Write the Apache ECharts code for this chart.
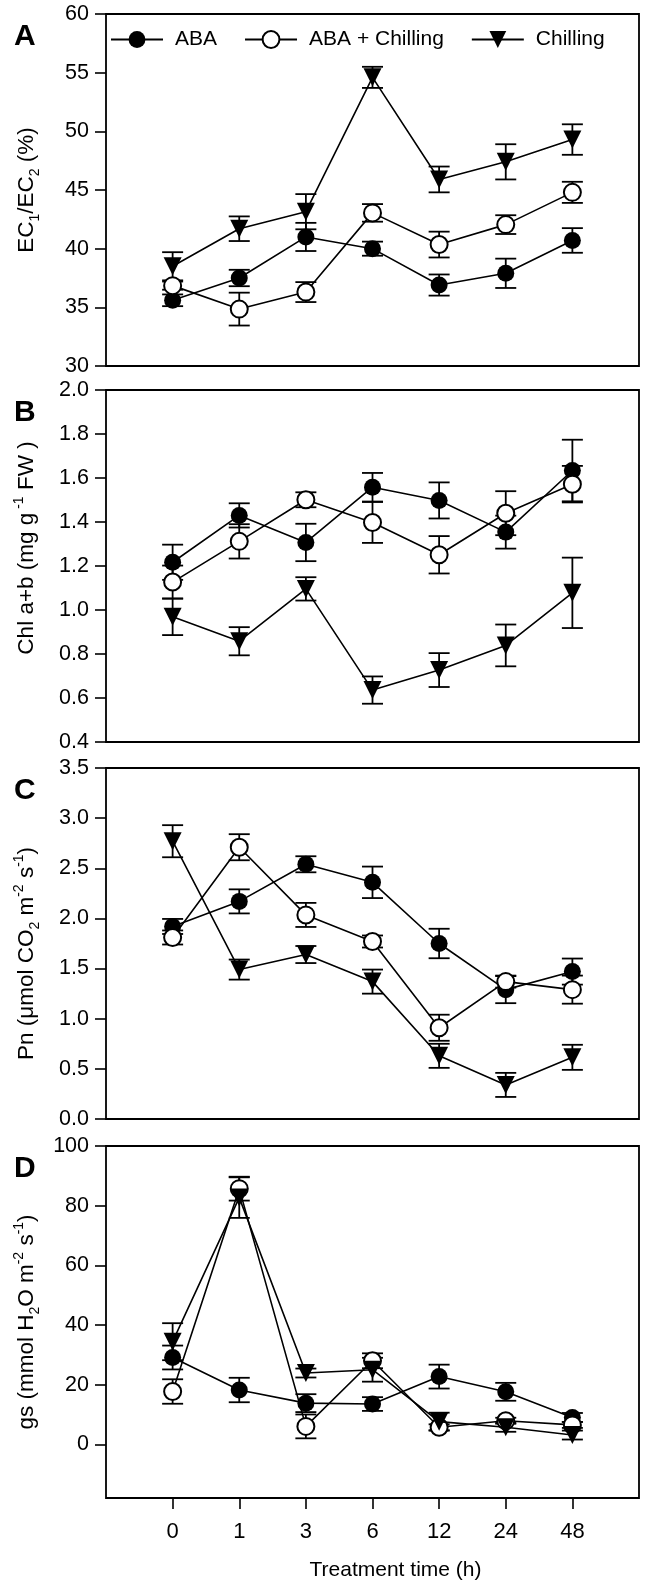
<!DOCTYPE html>
<html>
<head>
<meta charset="utf-8">
<script src="https://cdn.jsdelivr.net/npm/echarts@6/dist/echarts.min.js"></script>
<style>
  html, body { margin: 0; padding: 0; background: #fff; }
  #chart { width: 647px; height: 1589px; }
</style>
</head>
<body>
<div id="chart"></div>
<script>
// treatment times (x categories)
const times = ['0', '1', '3', '6', '12', '24', '48'];
const groups = ['ABA', 'ABA + Chilling', 'Chilling'];

// A: EC1/EC2 (%)
const ecAba = [35.6, 37.5, 41.0, 40.0, 36.9, 37.9, 40.7];
const ecAbaErr = [0.5, 0.7, 1.2, 0.6, 0.9, 1.25, 1.05];
const ecAbaChill = [36.85, 34.85, 36.3, 43.05, 40.35, 42.05, 44.8];
const ecAbaChillErr = [0.35, 1.4, 0.85, 0.75, 1.1, 0.8, 0.9];
const ecChill = [38.5, 41.7, 43.15, 54.6, 45.9, 47.4, 49.3];
const ecChillErr = [1.2, 1.05, 1.5, 0.9, 1.1, 1.5, 1.3];

// B: Chl a+b
const chlAba = [1.217, 1.43, 1.307, 1.558, 1.498, 1.354, 1.634];
const chlAbaErr = [0.08, 0.055, 0.085, 0.065, 0.082, 0.075, 0.14];
const chlAbaChill = [1.127, 1.312, 1.501, 1.398, 1.251, 1.44, 1.572];
const chlAbaChillErr = [0.075, 0.078, 0.034, 0.093, 0.085, 0.1, 0.083];
const chlChill = [0.969, 0.858, 1.096, 0.636, 0.727, 0.839, 1.078];
const chlChillErr = [0.083, 0.064, 0.053, 0.062, 0.077, 0.095, 0.16];

// C: Pn
const pnAba = [1.92, 2.17, 2.54, 2.36, 1.75, 1.29, 1.47];
const pnAbaErr = [0.075, 0.12, 0.08, 0.157, 0.147, 0.135, 0.13];
const pnAbaChill = [1.81, 2.71, 2.035, 1.77, 0.91, 1.37, 1.29];
const pnAbaChillErr = [0.07, 0.13, 0.12, 0.06, 0.13, 0.06, 0.14];
const pnChill = [2.77, 1.49, 1.64, 1.37, 0.63, 0.34, 0.615];
const pnChillErr = [0.16, 0.1, 0.085, 0.12, 0.12, 0.12, 0.125];

// D: gs
const gsAba = [29.1, 18.2, 13.8, 13.5, 22.7, 17.6, 9.0];
const gsAbaErr = [4, 4.1, 3, 2.3, 4, 3, 1.5];
const gsAbaChill = [17.7, 85.7, 6.0, 28.0, 5.7, 7.9, 6.5];
const gsAbaChillErr = [4.1, 4, 4, 2.5, 1, 1, 1];
const gsChill = [34.4, 82.7, 23.9, 25.0, 7.6, 5.7, 3.1];
const gsChillErr = [6.2, 6.8, 1.5, 4, 3, 1.5, 1.5];

const gsTicks = [0, 20, 40, 60, 80, 100];
const timeIdx = times.map((t, i) => i);

const FONT = "'Liberation Sans', Arial, sans-serif";
const panelTops = [14, 390, 768, 1146];
const panelH = [352, 352, 351, 352];
const letters = ['A', 'B', 'C', 'D'];

const chart = echarts.init(document.getElementById('chart'));

const rich = {
  n: { fontSize: 22.5, fontFamily: FONT, color: '#000', lineHeight: 30 },
  sub: { fontSize: 14, fontFamily: FONT, color: '#000', lineHeight: 30, verticalAlign: 'bottom' },
  sup: { fontSize: 14, fontFamily: FONT, color: '#000', lineHeight: 30, verticalAlign: 'top' }
};

const yNames = [
  '{n|EC}{sub|1}{n|/EC}{sub|2}{n| (%)}',
  '{n|Chl a+b (mg g}{sup| -1}{n| FW )}',
  '{n|Pn (μmol CO}{sub|2}{n| m}{sup|-2}{n| s}{sup|-1}{n|)}',
  '{n|gs (mmol H}{sub|2}{n|O m}{sup|-2}{n| s}{sup|-1}{n|)}'
];
const yPad = [0, [0, 0, 0, 36], [0, 20, 0, 0], 0];
const yRange = [[30, 60, 5], [0.4, 2.0, 0.2], [0, 3.5, 0.5], [-18, 100, 20]];
const yDigits = [0, 1, 1, 0];

const grid = panelTops.map((t, i) => ({
  left: 106, right: 8, top: t, height: panelH[i],
  show: true, borderColor: '#000', borderWidth: 1.8, backgroundColor: 'transparent'
}));

const xAxis = panelTops.map((t, i) => ({
  type: 'value', gridIndex: i, min: -1, max: 7,
  splitLine: { show: false },
  axisLine: { show: false, onZero: false },
  axisTick: i === 3 ? { show: true, length: 11, customValues: timeIdx, lineStyle: { color: '#000', width: 1.6 } } : { show: false },
  axisLabel: i === 3 ? {
    show: true, customValues: timeIdx, margin: 23, fontSize: 22, fontFamily: FONT, color: '#000',
    formatter: v => times[Math.round(v)]
  } : { show: false },
  name: i === 3 ? 'Treatment time (h)' : '',
  nameLocation: 'middle', nameGap: 62,
  nameTextStyle: { fontSize: 21, fontFamily: FONT, color: '#000', padding: [0, 0, 0, 46] }
}));

const yAxis = yRange.map((r, i) => {
  const ax = {
    type: 'value', gridIndex: i, min: r[0], max: r[1],
    splitLine: { show: false },
    axisLine: { show: false, onZero: false },
    axisTick: { show: true, length: 11, lineStyle: { color: '#000', width: 1.6 } },
    axisLabel: {
      margin: 17, fontSize: 21.5, fontFamily: FONT, color: '#000',
      formatter: v => v.toFixed(yDigits[i])
    },
    name: yNames[i], nameLocation: 'middle', nameGap: 64, nameRotate: 90,
    nameTextStyle: { rich: rich, padding: yPad[i] }
  };
  if (i === 3) {
    ax.axisTick.customValues = gsTicks;
    ax.axisLabel.customValues = gsTicks;
  } else {
    ax.interval = r[2];
  }
  return ax;
});

function errorBars(gi, means, errs) {
  return {
    type: 'custom', xAxisIndex: gi, yAxisIndex: gi, z: 1, silent: true,
    data: means.map((m, i) => [i, m - errs[i], m + errs[i]]),
    renderItem: (params, api) => {
      const x = api.value(0);
      const lo = api.coord([x, api.value(1)]);
      const hi = api.coord([x, api.value(2)]);
      const w = 10.5;
      const st = { stroke: '#000', lineWidth: 1.8 };
      return {
        type: 'group', children: [
          { type: 'line', shape: { x1: lo[0], y1: lo[1], x2: hi[0], y2: hi[1] }, style: st },
          { type: 'line', shape: { x1: lo[0] - w, y1: lo[1], x2: lo[0] + w, y2: lo[1] }, style: st },
          { type: 'line', shape: { x1: hi[0] - w, y1: hi[1], x2: hi[0] + w, y2: hi[1] }, style: st }
        ]
      };
    }
  };
}

const symbols = [
  { symbol: 'circle', symbolRotate: 0, size: 17 },
  { symbol: 'emptyCircle', symbolRotate: 0, size: 17 },
  { symbol: 'triangle', symbolRotate: 180, size: 18 }
];

function lineSeries(gi, k, vals) {
  return {
    type: 'line', name: groups[k], xAxisIndex: gi, yAxisIndex: gi,
    data: vals.map((v, i) => [i, v]),
    symbol: symbols[k].symbol, symbolRotate: symbols[k].symbolRotate,
    symbolSize: symbols[k].size,
    z: 3 + k,
    lineStyle: { color: '#000', width: 1.6 },
    itemStyle: { color: '#000', borderColor: '#000', borderWidth: k === 1 ? 1.6 : 0 },
    emphasis: { disabled: true },
    animation: false
  };
}

const panels = [
  [[ecAba, ecAbaErr], [ecAbaChill, ecAbaChillErr], [ecChill, ecChillErr]],
  [[chlAba, chlAbaErr], [chlAbaChill, chlAbaChillErr], [chlChill, chlChillErr]],
  [[pnAba, pnAbaErr], [pnAbaChill, pnAbaChillErr], [pnChill, pnChillErr]],
  [[gsAba, gsAbaErr], [gsAbaChill, gsAbaChillErr], [gsChill, gsChillErr]]
];

const series = [];
panels.forEach((p, gi) => {
  p.forEach(d => series.push(errorBars(gi, d[0], d[1])));
  p.forEach((d, k) => series.push(lineSeries(gi, k, d[0])));
});

chart.setOption({
  animation: false,
  color: ['#000'],
  textStyle: { fontFamily: FONT },
  grid: grid,
  xAxis: xAxis,
  yAxis: yAxis,
  legend: {
    data: groups, left: 105, top: 24,
    itemWidth: 52, itemHeight: 21, itemGap: 27,
    textStyle: { fontSize: 21, fontFamily: FONT, color: '#000', padding: [0, 0, 0, 7] },
    selectedMode: false
  },
  graphic: letters.map((l, i) => ({
    type: 'text', left: 14, top: panelTops[i] + 8,
    style: { text: l, font: 'bold 30px ' + FONT, fill: '#000' }
  })),
  series: series
});
</script>
</body>
</html>
